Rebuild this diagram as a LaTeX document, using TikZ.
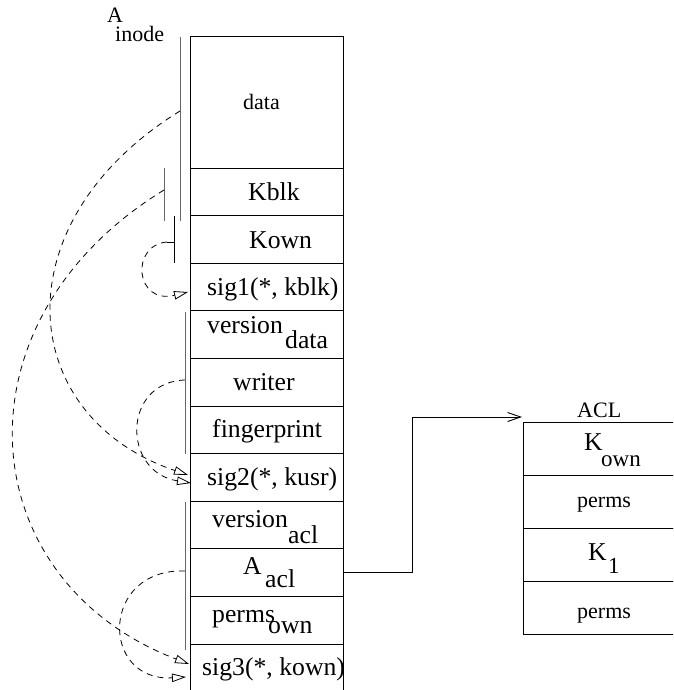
\documentclass[tikz,border=0pt]{standalone}
\usepackage{fontspec}
\setmainfont{Liberation Serif}
\usetikzlibrary{arrows.meta}
\begin{document}
\begin{tikzpicture}[x=1pt,y=-1pt,
  row/.style={draw, line width=0.9pt, minimum width=153pt, inner sep=0pt, outer sep=0pt},
  aclrow/.style={draw, line width=0.9pt, minimum width=160pt, minimum height=53pt, inner sep=0pt, outer sep=0pt},
  big/.style={font=\fontsize{25.7}{28}\selectfont, inner sep=0pt, anchor=base west},
  small/.style={font=\fontsize{22}{24}\selectfont, inner sep=0pt, anchor=base west},
  mid/.style={font=\fontsize{23}{25}\selectfont, inner sep=0pt, anchor=base west},
  brk/.style={line width=0.9pt, black!60},
  brkb/.style={line width=0.9pt, black},
  dep/.style={dash pattern=on 6pt off 5pt, line width=0.8pt, -{Triangle[open,length=14pt,width=8.5pt]}},
  link/.style={line width=0.9pt, -{Straight Barb[length=13pt,width=9pt]}}]
\clip (0,0) rectangle (673,690);
% main column
\node[row, minimum height=132pt] (data) at (266.5,102) {};
\node[row, minimum height=47.6pt] (kblk) at (266.5,191.8) {};
\node[row, minimum height=47.6pt] (kown) at (266.5,239.4) {};
\node[row, minimum height=47.6pt] (sig1) at (266.5,287) {};
\node[row, minimum height=47.6pt] (vdata) at (266.5,334.6) {};
\node[row, minimum height=47.6pt] (writer) at (266.5,382.2) {};
\node[row, minimum height=47.6pt] (fp) at (266.5,429.8) {};
\node[row, minimum height=47.6pt] (sig2) at (266.5,477.4) {};
\node[row, minimum height=47.6pt] (vacl) at (266.5,525) {};
\node[row, minimum height=47.6pt] (aacl) at (266.5,572.6) {};
\node[row, minimum height=47.6pt] (pown) at (266.5,620.2) {};
\node[row, minimum height=47.6pt] (sig3) at (266.5,667.8) {};
% ACL column
\node[aclrow] (acl1) at (603,448.5) {};
\node[aclrow] (acl2) at (603,501.5) {};
\node[aclrow] (acl3) at (603,554.5) {};
\node[aclrow] (acl4) at (603,607.5) {};
% labels
\node[small] (lA) at (107,23) {A};
\node[small] (linode) at (115,42) {inode};
\node[small] (ldata) at (243,110) {data};
\node[big] (lkblk) at (248,200) {Kblk};
\node[big] (lkown) at (249,248) {Kown};
\node[big] (lsig1) at (207,295) {sig1(*, kblk)};
\node[big] (lver1) at (207,333) {version};
\node[big] (lver1s) at (285,348) {data};
\node[big] (lwriter) at (233,390) {writer};
\node[big] (lfp) at (212,437) {fingerprint};
\node[big] (lsig2) at (207,485) {sig2(*, kusr)};
\node[big] (lver2) at (212,527) {version};
\node[big] (lver2s) at (288,543) {acl};
\node[big] (laacl) at (243,574) {A};
\node[big] (laacls) at (265,587) {acl};
\node[big] (lperms) at (212,622) {perms};
\node[big] (lpermss) at (268,633) {own};
\node[big] (lsig3) at (202,675) {sig3(*, kown)};
\node[small] (lacl) at (577,417) {ACL};
\node[big] (lk1) at (584,450) {K};
\node[mid] (lk1s) at (601,466) {own};
\node[small] (lp1) at (577,507) {perms};
\node[big] (lk2) at (588,560) {K};
\node[mid] (lk2s) at (608,573) {1};
\node[small] (lp2) at (577,618) {perms};
% brackets
\draw[brk] (180,37) -- (180,221);
\draw[brk] (164,168) -- (164,221);
\draw[brkb] (174,216) -- (174,263);
\draw[brkb] (167,242) -- (174,242);
\draw[brk] (185,312) -- (185,454);
\draw[brk] (185,502) -- (185,650);
% curve ends
\coordinate (s1) at (180,111);
\coordinate (s2) at (164,190);
\coordinate (s3) at (167,242);
\coordinate (s4) at (185,380);
\coordinate (s5) at (185,571);
\coordinate (t1) at (188,292);
\coordinate (t2a) at (188,475);
\coordinate (t2b) at (191,483);
\coordinate (t3a) at (189,664);
\coordinate (t3b) at (186,677);
\draw[dep] (s1) .. controls (0,222) and (15,416) .. (t2a);
\draw[dep] (s2) .. controls (-50,321) and (-30,580) .. (t3a);
\draw[dep] (s3) .. controls (130,245) and (135,305) .. (t1);
\draw[dep] (s4) .. controls (122,382) and (122,472) .. (t2b);
\draw[dep] (s5) .. controls (100,568) and (100,682) .. (t3b);
% link to ACL
\coordinate (bend) at (412,417);
\coordinate (aclin) at (522,417);
\draw[link] (aacl.east) -| (bend) -- (aclin);
\end{tikzpicture}
\end{document}
